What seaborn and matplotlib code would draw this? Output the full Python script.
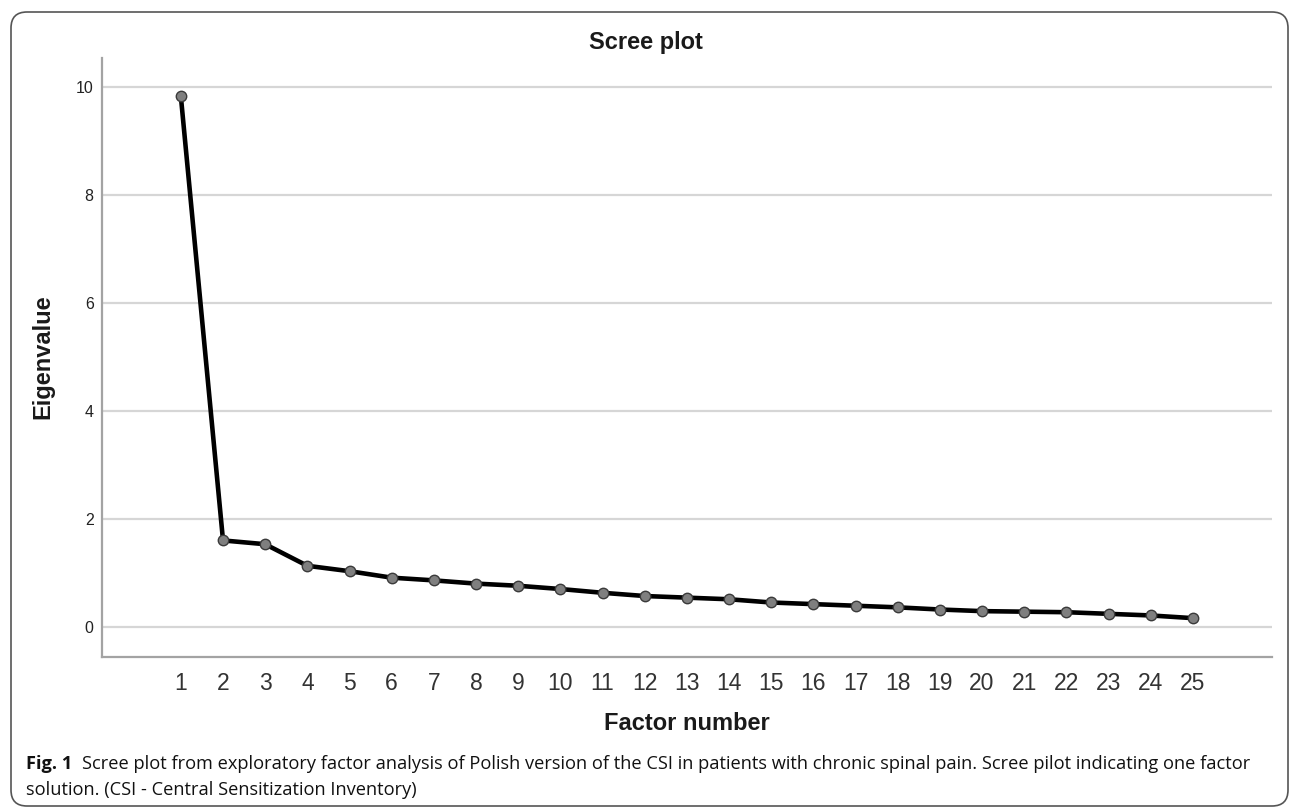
import matplotlib
matplotlib.use("Agg")
import matplotlib.pyplot as plt
import seaborn as sns
import pandas as pd
from matplotlib.patches import FancyBboxPatch
from matplotlib.transforms import IdentityTransform

# ---- data ----
factor_number = list(range(1, 26))
eigenvalue = [9.83, 1.60, 1.53, 1.13, 1.03, 0.91, 0.86, 0.80, 0.76, 0.70,
              0.63, 0.57, 0.54, 0.51, 0.45, 0.42, 0.39, 0.36, 0.32, 0.29,
              0.28, 0.27, 0.24, 0.21, 0.16]
y_ticks = [0, 2, 4, 6, 8, 10]
title = "Scree plot"
x_label = "Factor number"
y_label = "Eigenvalue"
caption_bold = "Fig. 1"
caption_line1 = ("Scree plot from exploratory factor analysis of Polish version of the CSI in "
                 "patients with chronic spinal pain. Scree pilot indicating one factor")
caption_line2 = "solution. (CSI - Central Sensitization Inventory)"

df = pd.DataFrame({"Factor number": factor_number, "Eigenvalue": eigenvalue})

sns.set_theme(style="white")
plt.rcParams["font.family"] = ["Liberation Sans", "DejaVu Sans"]

W, H = 1296, 807
fig = plt.figure(figsize=(W / 100, H / 100), dpi=100)
fig.patch.set_facecolor("white")

ax = fig.add_axes([102 / W, 1 - 657 / H, (1271.7 - 102) / W, (657 - 58) / H])
ax.set_facecolor("white")

for t in y_ticks:
    ax.axhline(t, color="#d6d6d6", lw=1.6, zorder=0)

sns.lineplot(data=df, x="Factor number", y="Eigenvalue", ax=ax, color="black",
             lw=3.3, marker="o", markersize=7.5, markerfacecolor="#7f7f7f",
             markeredgecolor="#3a3a3a", markeredgewidth=1.0, zorder=3)

ax.set_xlim(-0.87, 26.87)
ax.set_ylim(-0.56, 10.54)
ax.set_xticks(factor_number)
ax.set_xticklabels([str(v) for v in factor_number])
ax.set_yticks(y_ticks)
ax.set_yticklabels([str(v) for v in y_ticks])
ax.set_xlabel("")
ax.set_ylabel("")

for s in ["top", "right"]:
    ax.spines[s].set_visible(False)
for s in ["left", "bottom"]:
    ax.spines[s].set_color("#a3a3a3")
    ax.spines[s].set_linewidth(1.6)

ax.tick_params(axis="x", length=0, pad=11, labelsize=16.5, labelcolor="#333333")
ax.tick_params(axis="y", length=2.5, width=1.2, color="#a3a3a3", pad=3.5,
               labelsize=11.5, labelcolor="#222222")

fig.text(645.5 / W, 1 - 42.5 / H, title, ha="center", va="center", fontsize=17,
         fontweight="bold", color="#1a1a1a")
fig.text(687 / W, 1 - 724 / H, x_label, ha="center", va="center", fontsize=17,
         fontweight="bold", color="#1a1a1a")
fig.text(43 / W, 1 - 357 / H, y_label, ha="center", va="center", fontsize=17,
         fontweight="bold", rotation=90, color="#1a1a1a")

# caption (font size fitted so that the first line fills the caption width)
cap_font = ["Open Sans", "DejaVu Sans"]
renderer = fig.canvas.get_renderer()
x0, x_end = 26, 1245
y1, y2 = 764, 790
base = 12.0
tb = fig.text(0, 0, caption_bold, fontsize=base, fontweight="bold", family=cap_font)
tl = fig.text(0, 0, caption_line1, fontsize=base, family=cap_font)
w_total = (tb.get_window_extent(renderer).width + 10 + tl.get_window_extent(renderer).width)
tb.remove()
tl.remove()
cap_size = base * (x_end - x0) / w_total

t_bold = fig.text(x0 / W, 1 - y1 / H, caption_bold, ha="left", va="center",
                  fontsize=cap_size, fontweight="bold", family=cap_font, color="#111111")
bb = t_bold.get_window_extent(renderer=renderer)
fig.text((bb.x1 + 10) / W, 1 - y1 / H, caption_line1, ha="left", va="center",
         fontsize=cap_size, family=cap_font, color="#111111")
fig.text(x0 / W, 1 - y2 / H, caption_line2, ha="left", va="center",
         fontsize=cap_size, family=cap_font, color="#111111")

# rounded frame
frame = FancyBboxPatch((11, 1), 1277, 794, boxstyle="round,pad=0,rounding_size=16",
                       transform=IdentityTransform(), fill=False,
                       edgecolor="#555555", lw=1.2)
fig.patches.append(frame)

fig.savefig("out.png", dpi=100, facecolor="white")
